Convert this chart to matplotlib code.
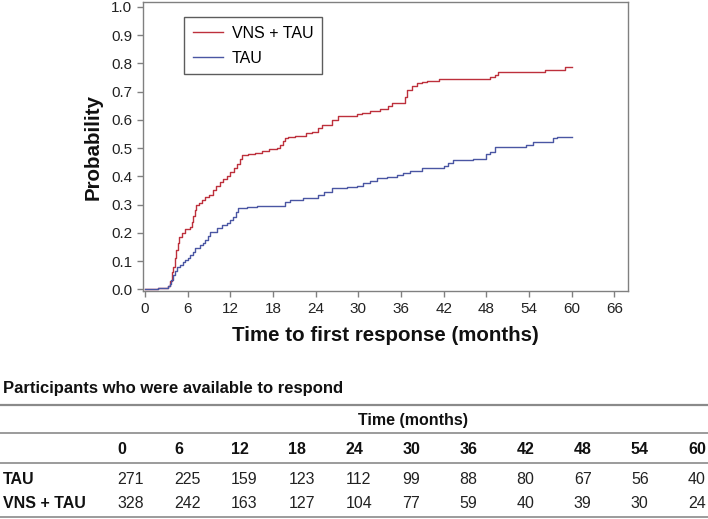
import matplotlib
matplotlib.use("Agg")
import matplotlib.pyplot as plt
from matplotlib.lines import Line2D

plt.rcParams['font.family'] = ['Liberation Sans', 'DejaVu Sans']

# ---------------- data ----------------
vns_time = [0, 1.8, 3.2, 3.5, 3.8, 4.0, 4.2, 4.4, 4.6, 4.8, 5.2, 5.6, 6.3, 6.6, 6.8,
            7.0, 7.2, 7.6, 8.0, 8.5, 9.0, 9.5, 10.0, 10.5, 11.0, 11.5, 12.0, 12.5,
            13.0, 13.3, 13.6, 14.5, 15.5, 16.5, 17.5, 18.5, 19.0, 19.4, 19.7, 20.1,
            21.1, 22.7, 23.5, 24.3, 24.9, 26.3, 27.1, 29.8, 30.5, 31.6, 33.0, 34.1,
            34.7, 36.5, 36.9, 37.5, 38.2, 39.0, 39.6, 41.4, 48.5, 49.2, 49.6, 56.2,
            59.0, 60.0]
vns_prob = [0, 0.006, 0.012, 0.03, 0.06, 0.08, 0.11, 0.14, 0.165, 0.185, 0.2, 0.215,
            0.22, 0.24, 0.26, 0.28, 0.298, 0.305, 0.315, 0.325, 0.335, 0.35, 0.365,
            0.38, 0.39, 0.40, 0.415, 0.43, 0.445, 0.46, 0.475, 0.478, 0.483, 0.488,
            0.495, 0.50, 0.51, 0.526, 0.534, 0.540, 0.542, 0.552, 0.558, 0.570, 0.581,
            0.599, 0.613, 0.620, 0.625, 0.632, 0.640, 0.649, 0.660, 0.681, 0.705,
            0.719, 0.729, 0.735, 0.738, 0.743, 0.750, 0.758, 0.770, 0.776, 0.786,
            0.786]

tau_time = [0, 1.8, 3.2, 3.5, 3.7, 4.0, 4.2, 4.5, 4.9, 5.3, 5.6, 6.0, 6.3, 6.7, 7.0,
            7.7, 8.1, 8.4, 8.8, 9.1, 10.1, 10.8, 11.5, 12.0, 12.4, 12.8, 13.1, 14.3,
            15.7, 19.7, 20.4, 22.2, 24.3, 25.2, 26.3, 28.4, 29.8, 30.6, 31.6, 32.6,
            34.0, 35.4, 36.2, 37.2, 39.0, 42.1, 42.6, 43.3, 46.1, 48.0, 48.5, 49.2,
            53.6, 54.5, 57.3, 57.9, 60.0]
tau_prob = [0, 0.004, 0.01, 0.02, 0.033, 0.05, 0.065, 0.078, 0.086, 0.095, 0.104,
            0.112, 0.121, 0.133, 0.145, 0.157, 0.165, 0.174, 0.19, 0.204, 0.216,
            0.228, 0.236, 0.245, 0.257, 0.272, 0.287, 0.292, 0.295, 0.31, 0.316,
            0.324, 0.334, 0.345, 0.357, 0.361, 0.366, 0.375, 0.384, 0.395, 0.398,
            0.404, 0.41, 0.419, 0.428, 0.436, 0.446, 0.457, 0.463, 0.478, 0.487,
            0.502, 0.511, 0.52, 0.534, 0.54, 0.54]

x_ticks = [0, 6, 12, 18, 24, 30, 36, 42, 48, 54, 60, 66]
y_ticks = [0.0, 0.1, 0.2, 0.3, 0.4, 0.5, 0.6, 0.7, 0.8, 0.9, 1.0]

table_times = [0, 6, 12, 18, 24, 30, 36, 42, 48, 54, 60]
tau_at_risk = [271, 225, 159, 123, 112, 99, 88, 80, 67, 56, 40]
vns_at_risk = [328, 242, 163, 127, 104, 77, 59, 40, 39, 30, 24]
row_labels = ["TAU", "VNS + TAU"]

# ---------------- figure ----------------
W, H = 708, 519
fig = plt.figure(figsize=(W / 100, H / 100), dpi=100)

def fx(px):
    return px / W

def fy(py):
    return 1 - py / H

ax_l, ax_r, ax_t, ax_b = 143.3, 628.0, 2.0, 291.0
ax = fig.add_axes([fx(ax_l), fy(ax_b), fx(ax_r - ax_l), (ax_b - ax_t) / H])

red = '#bd303c'
blue = '#4a56a3'
ax.step(vns_time, vns_prob, where='post', color=red, lw=1.0, label='VNS + TAU')
ax.step(tau_time, tau_prob, where='post', color=blue, lw=1.0, label='TAU')

ax.set_xlim(-0.24, 67.9)
ax.set_ylim(-0.006, 1.017)
ax.set_xticks(x_ticks)
ax.set_yticks(y_ticks)
ax.set_yticklabels([f"{v:.1f}" for v in y_ticks])

spine_c = '#808080'
for s in ax.spines.values():
    s.set_color(spine_c)
    s.set_linewidth(1.0)
ax.tick_params(axis='both', colors=spine_c, labelcolor='#222222', labelsize=11,
               length=4, width=1.0, direction='out')
ax.tick_params(axis='x', pad=4)
ax.tick_params(axis='y', pad=4)

ax.set_xlabel("Time to first response (months)", fontsize=14.8, fontweight='bold',
              labelpad=7, color='#111111')
ax.set_ylabel("Probability", fontsize=14.8, fontweight='bold', labelpad=6,
              color='#111111')

leg = ax.legend(loc='upper left', bbox_to_anchor=((184 - ax_l) / (ax_r - ax_l),
                                                  (ax_b - 17.3) / (ax_b - ax_t)),
                fontsize=11.5, frameon=True, fancybox=False, handlelength=1.9,
                handletextpad=0.55, borderpad=0.55, labelspacing=0.6,
                borderaxespad=0)
leg.get_frame().set_edgecolor('#333333')
leg.get_frame().set_linewidth(1.0)

# ---------------- table ----------------
tab = fig.add_axes([0, 0, 1, 1])
tab.set_xlim(0, W)
tab.set_ylim(H, 0)
tab.axis('off')

fs = 11.5
line_c = '#8a8a8a'
tab.text(3, 388, "Participants who were available to respond", fontsize=12,
         fontweight='bold', va='center', ha='left', color='#111111')
for yy, lw in [(405, 1.6), (433, 1.2), (463, 1.2), (517, 1.2)]:
    tab.add_line(Line2D([0, W], [yy, yy], color=line_c, lw=lw))

tab.text(413, 420, "Time (months)", fontsize=fs, fontweight='bold', ha='center',
         va='center', color='#111111')

col_left0 = 117
col_step = 57.1
for i, t in enumerate(table_times):
    x = col_left0 + i * col_step
    tab.text(x, 449, str(t), fontsize=fs, fontweight='bold', ha='left',
             va='center', color='#111111')
    tab.text(x, 479, str(tau_at_risk[i]), fontsize=fs, ha='left', va='center',
             color='#222222')
    tab.text(x, 503, str(vns_at_risk[i]), fontsize=fs, ha='left', va='center',
             color='#222222')

tab.text(3, 479, row_labels[0], fontsize=fs, fontweight='bold', ha='left',
         va='center', color='#111111')
tab.text(3, 503, row_labels[1], fontsize=fs, fontweight='bold', ha='left',
         va='center', color='#111111')

fig.savefig("out.png", dpi=100)
